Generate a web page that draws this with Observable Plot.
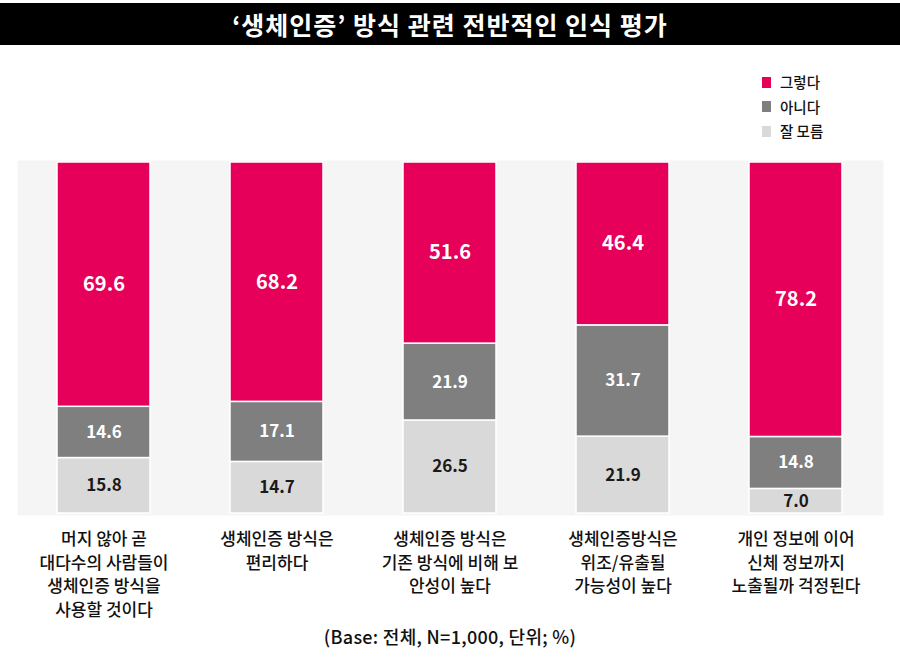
<!DOCTYPE html>
<html>
<head>
<meta charset="utf-8">
<script src="https://cdn.jsdelivr.net/npm/d3@7"></script>
<script src="https://cdn.jsdelivr.net/npm/@observablehq/plot@0.6"></script>
<style>
  html, body { margin: 0; padding: 0; background: #fff; }
  body { width: 900px; height: 660px; position: relative; overflow: hidden; font-family: "Noto Sans CJK KR", "Noto Sans", sans-serif; }
  #title { position: absolute; left: 0; top: 3px; width: 900px; height: 42px; background: #000; color: #fff;
    font-size: 25px; font-weight: 700; text-align: center; line-height: 42px; letter-spacing: 1px; }
  #legend { position: absolute; left: 762px; top: 70px; font-size: 14.5px; color: #111; font-weight: 500; }
  #legend div { height: 24.5px; line-height: 22px; display: flex; align-items: center; }
  #legend span.sw { display: inline-block; width: 9px; height: 11px; margin-right: 9px; }
  #chart { position: absolute; left: 0; top: 150px; }
  #caption { position: absolute; left: 0; top: 623px; width: 900px; text-align: center; font-size: 18px; color: #111; font-weight: 500; letter-spacing: 0.3px; }
</style>
</head>
<body>
<div id="title">‘생체인증’ 방식 관련 전반적인 인식 평가</div>
<div id="legend"></div>
<div id="chart"></div>
<div id="caption">(Base: 전체, N=1,000, 단위; %)</div>
<script>
const categories = [
  "머지 않아 곧\n대다수의 사람들이\n생체인증 방식을\n사용할 것이다",
  "생체인증 방식은\n편리하다",
  "생체인증 방식은\n기존 방식에 비해 보\n안성이 높다",
  "생체인증방식은\n위조/유출될\n가능성이 높다",
  "개인 정보에 이어\n신체 정보까지\n노출될까 걱정된다"
];
const seriesNames = ["잘 모름", "아니다", "그렇다"];
const yesValues = [69.6, 68.2, 51.6, 46.4, 78.2];
const noValues = [14.6, 17.1, 21.9, 31.7, 14.8];
const dkValues = [15.8, 14.7, 26.5, 21.9, 7.0];
const colors = ["#d9d9d9", "#7f7f7f", "#e6005a"];

const seriesValues = [dkValues, noValues, yesValues];
const data = [];
seriesNames.forEach((s, si) => {
  categories.forEach((c, ci) => {
    data.push({category: c, series: s, value: seriesValues[si][ci]});
  });
});

// legend (top-down: 그렇다, 아니다, 잘 모름)
const legend = document.getElementById("legend");
[2, 1, 0].forEach(i => {
  const d = document.createElement("div");
  d.innerHTML = `<span class="sw" style="background:${colors[i]}"></span>${seriesNames[i]}`;
  legend.appendChild(d);
});

const stackOpts = {x: "category", y: "value", z: "series", order: seriesNames};
const labelFor = name => d => d.series === name ? d.value.toFixed(1) : null;

const chart = Plot.plot({
  width: 900,
  height: 470,
  marginLeft: 17,
  marginRight: 17,
  marginTop: 12,
  marginBottom: 107,
  style: {fontFamily: "'Noto Sans CJK KR', sans-serif", background: "transparent"},
  x: {domain: categories, paddingInner: 0.46, paddingOuter: 0.23, label: null},
  y: {domain: [0, 100], axis: null},
  color: {domain: seriesNames, range: colors},
  marks: [
    Plot.frame({fill: "#f5f5f5", stroke: null, insetTop: -2, insetBottom: -2}),
    Plot.barY(data, Plot.stackY({...stackOpts, fill: "series", stroke: "#fff", strokeWidth: 1.5})),
    Plot.text(data, Plot.stackY({...stackOpts, text: labelFor("그렇다"), fill: "#fff", fontSize: 20, fontWeight: 700})),
    Plot.text(data, Plot.stackY({...stackOpts, text: labelFor("아니다"), fill: "#fff", fontSize: 17, fontWeight: 700})),
    Plot.text(data, Plot.stackY({...stackOpts, text: labelFor("잘 모름"), fill: "#1a1a1a", fontSize: 17, fontWeight: 600})),
    Plot.axisX({tickSize: 0, tickPadding: 15, fontSize: 17, fontWeight: 500, lineHeight: 1.38, fill: "#111", textAnchor: "middle", lineAnchor: "top", label: null, style: {letterSpacing: "0.8px"}})
  ]
});
document.getElementById("chart").appendChild(chart);
</script>
</body>
</html>
